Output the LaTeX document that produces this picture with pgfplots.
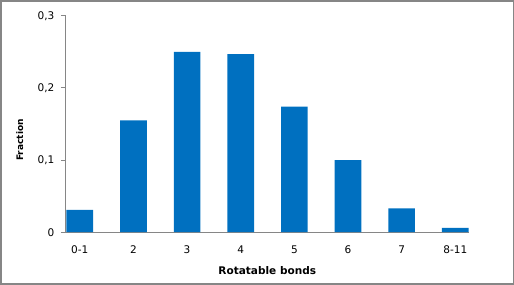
\documentclass[border=0pt]{standalone}
\usepackage{fontspec}
\setmainfont{DejaVu Sans}
\usepackage{pgfplots}
\pgfplotsset{compat=1.18}
\definecolor{barblue}{RGB}{0,112,192}
\definecolor{axisgray}{RGB}{134,134,134}
\definecolor{framegray}{RGB}{134,134,134}
\begin{document}
\begin{tikzpicture}[x=1pt,y=1pt]
\draw[framegray, line width=1.5pt] (-65,-51.5) rectangle (446.5,231);
\begin{axis}[
  at={(0,0)}, anchor=south west,
  scale only axis, width=402pt, height=216pt,
  xmin=-0.26, xmax=7.25, ymin=0, ymax=0.3,
  axis x line*=bottom, axis y line*=left,
  x axis line style={-, draw=axisgray, line width=1pt},
  y axis line style={-, draw=axisgray, line width=1pt},
  xtick={0,1,2,3,4,5,6,7},
  xticklabels={0-1,2,3,4,5,6,7,8-11},
  x tick style={draw=none},
  ytick={0,0.1,0.2,0.3},
  yticklabels={0,{0,1},{0,2},{0,3}},
  y tick style={draw=axisgray, line width=1pt},
  tick align=outside, major tick length=5pt,
  ticklabel style={font=\fontsize{10.5}{12}\selectfont},
  xticklabel style={yshift=-5pt},
  yticklabel style={xshift=-3pt},
  ybar, bar width=26.6pt,
  xlabel={\fontsize{10.5}{12}\selectfont\bfseries Rotatable bonds},
  xlabel style={at={(axis description cs:0.5,0)}, anchor=center, yshift=-38pt},
  clip=false,
]
\addplot[fill=barblue, draw=none] coordinates {
 (0,0.031) (1,0.155) (2,0.250) (3,0.247) (4,0.174) (5,0.100) (6,0.033) (7,0.006)};
\end{axis}
\node[rotate=90, font=\fontsize{9}{11}\selectfont\bfseries] at (-46,92) {Fraction};
\end{tikzpicture}
\end{document}
